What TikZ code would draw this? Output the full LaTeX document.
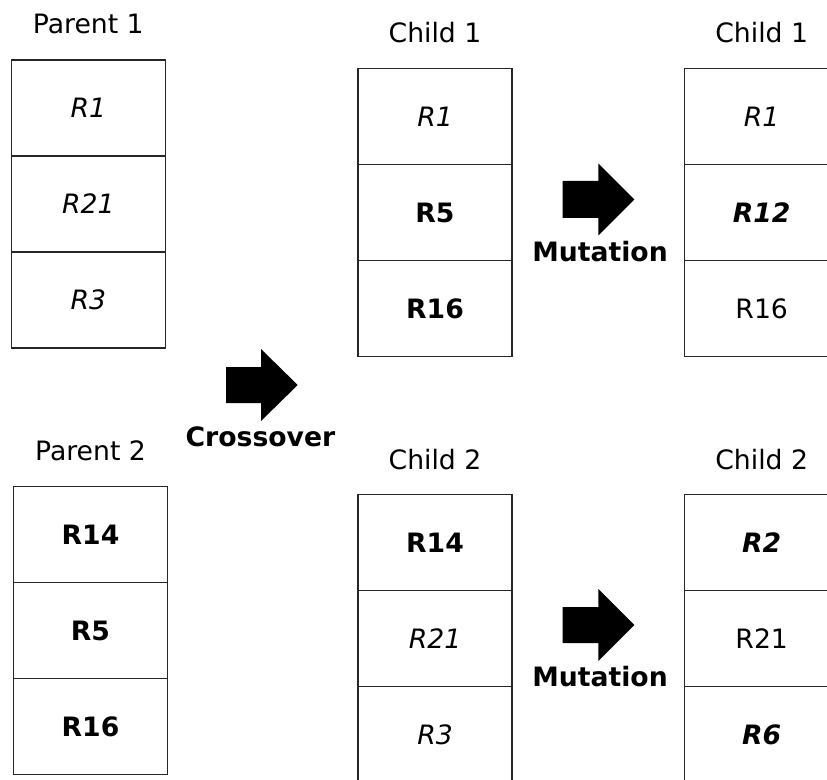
\documentclass[tikz,border=0pt]{standalone}
\usepackage{fontspec}
\setmainfont{DejaVu Sans}
\begin{document}
\begin{tikzpicture}[x=0.75pt,y=-0.75pt,
  cell/.style={draw=black!85,line width=0.8pt,minimum width=115.5pt,minimum height=72pt,
    inner sep=0pt,outer sep=0pt,font=\fontsize{20pt}{24pt}\selectfont},
  gene/.style={cell,font=\fontsize{20pt}{24pt}\selectfont\itshape},
  keep/.style={cell,font=\fontsize{20pt}{24pt}\selectfont\bfseries},
  mut/.style={cell,font=\fontsize{20pt}{24pt}\selectfont\bfseries\itshape},
  title/.style={anchor=base,inner sep=0pt,font=\fontsize{20pt}{24pt}\selectfont},
  oplabel/.style={anchor=base,inner sep=0pt,font=\fontsize{20pt}{24pt}\selectfont\bfseries},
  bigarrow/.style={fill=black}]
\clip (0,0) rectangle (827,780);

% Parent 1
\node[title] (p1t) at (88.3,33.5) {Parent 1};
\node[gene] (p1a) at (88.3,108) {R1};
\node[gene] (p1b) at (88.3,204) {R21};
\node[gene] (p1c) at (88.3,300) {R3};

% Parent 2
\node[title] (p2t) at (90.5,460.5) {Parent 2};
\node[keep] (p2a) at (90.5,534.5) {R14};
\node[keep] (p2b) at (90.5,630.5) {R5};
\node[keep] (p2c) at (90.5,726.5) {R16};

% Crossover operator
\fill[bigarrow] (226,367) -- (261,367) -- (261,349) -- (297.7,385) -- (261,421) -- (261,403) -- (226,403) -- cycle;
\node[oplabel] (cross) at (260.5,446) {Crossover};

% Child 1 after crossover
\node[title] (c1t) at (435,42.5) {Child 1};
\node[gene] (c1a) at (435,116.5) {R1};
\node[keep] (c1b) at (435,212.5) {R5};
\node[keep] (c1c) at (435,308.5) {R16};

% Child 2 after crossover
\node[title] (c2t) at (435,469.5) {Child 2};
\node[keep] (c2a) at (435,542.5) {R14};
\node[gene] (c2b) at (435,638.5) {R21};
\node[gene] (c2c) at (435,734.5) {R3};

% Mutation operators
\fill[bigarrow] (562.7,181) -- (598.3,181) -- (598.3,163.5) -- (634.3,199.5) -- (598.3,235.5) -- (598.3,218) -- (562.7,218) -- cycle;
\node[oplabel] (mut1) at (600,261.7) {Mutation};
\fill[bigarrow] (562.7,607) -- (598.3,607) -- (598.3,589) -- (634.3,625) -- (598.3,661) -- (598.3,643) -- (562.7,643) -- cycle;
\node[oplabel] (mut2) at (600,686.7) {Mutation};

% Child 1 after mutation
\node[title] (m1t) at (761.7,42.5) {Child 1};
\node[gene] (m1a) at (761.7,116.5) {R1};
\node[mut] (m1b) at (761.7,212.5) {R12};
\node[cell] (m1c) at (761.7,308.5) {R16};

% Child 2 after mutation
\node[title] (m2t) at (761.7,469.5) {Child 2};
\node[mut] (m2a) at (761.7,542.5) {R2};
\node[cell] (m2b) at (761.7,638.5) {R21};
\node[mut] (m2c) at (761.7,734.5) {R6};
\end{tikzpicture}
\end{document}
